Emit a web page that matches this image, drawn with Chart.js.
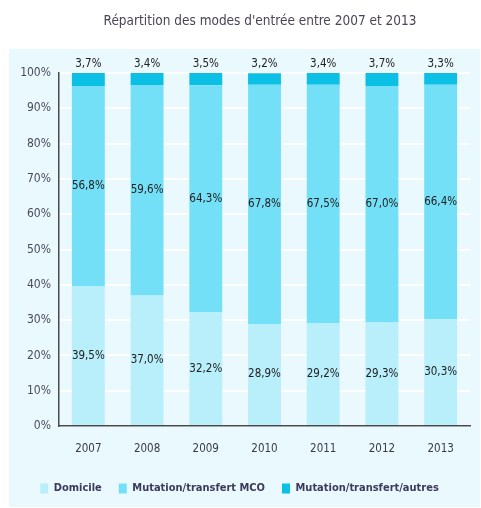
<!DOCTYPE html>
<html>
<head>
<meta charset="utf-8">
<script src="https://cdn.jsdelivr.net/npm/chart.js@4"></script>
<style>
  html, body { margin: 0; padding: 0; background: #fff; }
  #wrap { width: 481px; height: 508px; }
</style>
</head>
<body>
<div id="wrap"><canvas id="myChart" width="481" height="508"></canvas></div>
<script>
// data
const years = ['2007', '2008', '2009', '2010', '2011', '2012', '2013'];
const domicile = [39.5, 37.0, 32.2, 28.9, 29.2, 29.3, 30.3];
const mutationMCO = [56.8, 59.6, 64.3, 67.8, 67.5, 67.0, 66.4];
const mutationAutres = [3.7, 3.4, 3.5, 3.2, 3.4, 3.7, 3.3];
const yTicks = [0, 10, 20, 30, 40, 50, 60, 70, 80, 90, 100];

const FONT = "'Liberation Sans Narrow', 'DejaVu Sans Condensed', 'Liberation Sans', sans-serif";
const fmt = v => v.toFixed(1).replace('.', ',') + '%';

// background panel + title
const panelPlugin = {
  id: 'panel',
  beforeDraw(chart) {
    const ctx = chart.ctx;
    ctx.save();
    ctx.fillStyle = '#ffffff';
    ctx.fillRect(0, 0, chart.width, chart.height);
    ctx.fillStyle = '#e9f9fe';
    ctx.fillRect(9, 49, 471, 458);
    ctx.fillStyle = '#4b4455';
    ctx.font = '13.5px ' + FONT;
    ctx.textAlign = 'center';
    ctx.textBaseline = 'middle';
    ctx.fillText("Répartition des modes d'entrée entre 2007 et 2013", 260, 21);
    ctx.restore();
  }
};

// value labels
const labelPlugin = {
  id: 'valueLabels',
  afterDatasetsDraw(chart) {
    const ctx = chart.ctx;
    ctx.save();
    ctx.font = '11.5px ' + FONT;
    ctx.fillStyle = '#222222';
    ctx.textAlign = 'center';
    ctx.textBaseline = 'middle';
    chart.data.datasets.forEach((ds, i) => {
      const meta = chart.getDatasetMeta(i);
      meta.data.forEach((bar, j) => {
        const v = ds.data[j];
        if (i === 2) {
          ctx.fillText(fmt(v), bar.x, chart.chartArea.top - 9);
        } else {
          ctx.fillText(fmt(v), bar.x, (bar.y + bar.base) / 2);
        }
      });
    });
    ctx.restore();
  }
};

const ctx = document.getElementById('myChart').getContext('2d');
const myChart = new Chart(ctx, {
  type: 'bar',
  data: {
    labels: years,
    datasets: [
      { label: 'Domicile', data: domicile, backgroundColor: '#b9eefb' },
      { label: 'Mutation/transfert MCO', data: mutationMCO, backgroundColor: '#74e0f7' },
      { label: 'Mutation/transfert/autres', data: mutationAutres, backgroundColor: '#0bbfe5' }
    ]
  },
  options: {
    responsive: false,
    animation: false,
    layout: { padding: { left: 9, right: 11, top: 73, bottom: 4 } },
    datasets: { bar: { barPercentage: 0.56, categoryPercentage: 1, borderWidth: 0 } },
    scales: {
      x: {
        stacked: true,
        grid: { display: false, drawTicks: false },
        border: { display: true, color: '#4a4a4a', width: 1.5 },
        ticks: { color: '#3a3a4a', font: { family: FONT, size: 11.5 }, padding: 16 },
        afterFit: s => { s.height = 40; }
      },
      y: {
        stacked: true,
        min: 0,
        max: 100,
        afterBuildTicks: s => { s.ticks = yTicks.map(v => ({ value: v })); },
        grid: { color: '#ffffff', lineWidth: 2, drawTicks: false },
        border: { display: true, color: '#4a4a4a', width: 1.5 },
        ticks: { color: '#4a4a5a', font: { family: FONT, size: 12 }, padding: 8, callback: v => v + '%' },
        afterFit: s => { s.width = 50; }
      }
    },
    plugins: {
      title: { display: false },
      tooltip: { enabled: false },
      legend: {
        display: true,
        position: 'bottom',
        labels: {
          boxWidth: 8,
          boxHeight: 10,
          padding: 17,
          color: '#3b3a5a',
          font: { family: FONT, size: 11, weight: 'bold' }
        }
      }
    }
  },
  plugins: [panelPlugin, labelPlugin]
});
</script>
</body>
</html>
